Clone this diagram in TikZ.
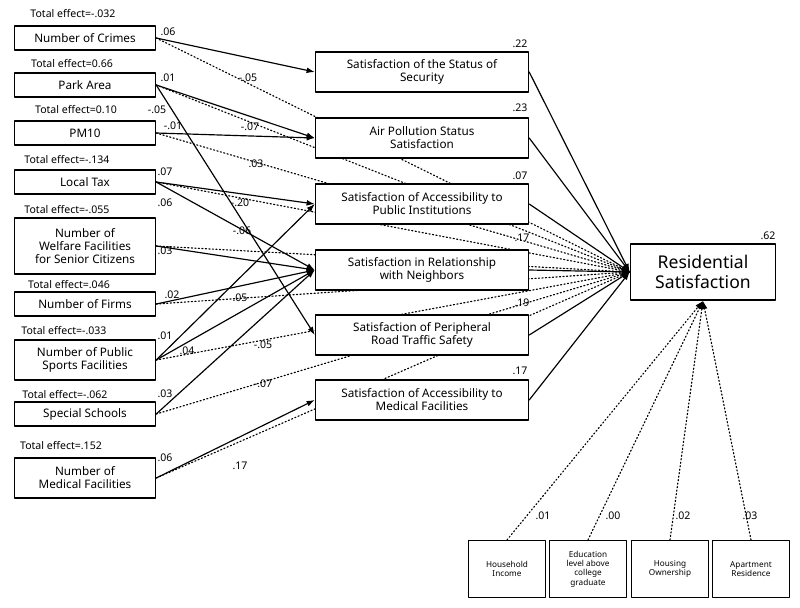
\documentclass[tikz,border=0pt]{standalone}
\usepackage{fontspec}
\setmainfont{Noto Sans}
\usetikzlibrary{arrows.meta}

\begin{document}
\begin{tikzpicture}[line cap=round,line join=round,>={Latex[length=7pt,width=5pt]},x=0.03cm,y=-0.03cm,
	lbox/.style={draw,line width=1.2pt,minimum width=4.23cm,minimum height=0.72cm,align=center,font=\fontsize{10}{11}\selectfont\bfseries,inner sep=1pt,fill=white},
	mbox/.style={draw,line width=1.2pt,minimum width=6.39cm,minimum height=1.2cm,align=center,font=\fontsize{10}{11}\selectfont\bfseries,inner sep=1pt,fill=white},
	cbox/.style={draw,line width=1pt,minimum width=2.3cm,minimum height=1.71cm,align=center,font=\fontsize{7}{8}\selectfont,inner sep=1pt,fill=white},
	coef/.style={font=\fontsize{9}{10}\selectfont\bfseries,inner sep=0pt},
	path/.style={line width=1pt,->},
	ind/.style={line width=1pt,dotted}]
		\useasboundingbox (0,0) rectangle (800,608);
		% exogenous variables
		\node[lbox] (crime) at (85,38) {Number of Crimes};
		\node[lbox] (park) at (85,85) {Park Area};
		\node[lbox] (pm) at (85,133) {PM10};
		\node[lbox] (tax) at (85,182) {Local Tax};
		\node[lbox,minimum height=1.68cm] (welf) at (85,246) {Number of\\Welfare Facilities\\for Senior Citizens};
		\node[lbox] (firm) at (85,304) {Number of Firms};
		\node[lbox,minimum height=1.2cm] (sport) at (85,360) {Number of Public\\Sports Facilities};
		\node[lbox] (school) at (85,414) {Special Schools};
		\node[lbox,minimum height=1.2cm] (med) at (85,478) {Number of\\Medical Facilities};
		% residential satisfaction
		\node[draw,line width=1.4pt,minimum width=4.35cm,minimum height=1.68cm,align=center,font=\fontsize{15}{17}\selectfont\bfseries] (res) at (703,272) {Residential\\Satisfaction};
		% indirect paths
		\foreach \s in {crime,park,pm,tax,welf,firm,sport,school,med}
			\draw[ind] (\s.east) -- (res.west);
		% mediators
		\node[mbox] (secu) at (422,72) {Satisfaction of the Status of\\Security};
		\node[mbox] (air) at (422,138) {Air Pollution Status\\Satisfaction};
		\node[mbox] (pub) at (422,204) {Satisfaction of Accessibility to\\Public Institutions};
		\node[mbox] (neig) at (422,270) {Satisfaction in Relationship\\with Neighbors};
		\node[mbox] (road) at (422,335) {Satisfaction of Peripheral\\Road Traffic Safety};
		\node[mbox] (mfac) at (422,400) {Satisfaction of Accessibility to\\Medical Facilities};
		% direct paths
		\draw[path] (crime.east) -- (secu.west);
		\draw[path] (park.east) -- (air.west);
		\draw[path] (park.east) -- (road.west);
		\draw[path] (pm.east) -- (air.west);
		\draw[path] (tax.east) -- (pub.west);
		\draw[path] (tax.east) -- (neig.west);
		\draw[path] (welf.east) -- (neig.west);
		\draw[path] (firm.east) -- (neig.west);
		\draw[path] (sport.east) -- (pub.west);
		\draw[path] (sport.east) -- (neig.west);
		\draw[path] (school.east) -- (neig.west);
		\draw[path] (med.east) -- (mfac.west);
		\foreach \m in {secu,air,pub,neig,road,mfac}
			\draw[path] (\m.east) -- (res.west);
		% controls
		\node[cbox] (inc) at (507,569) {Household\\Income};
		\node[cbox] (edu) at (588,569) {Education\\level above\\college\\graduate};
		\node[cbox] (hous) at (670,569) {Housing\\Ownership};
		\node[cbox] (apt) at (751,569) {Apartment\\Residence};
		\foreach \c in {inc,edu,hous,apt}
			\draw[ind,->] (\c.north) -- (res.south);
		% total effects
		\begin{scope}[coef]
			\node at (73,14) {Total effect=-.032};
			\node at (72,64) {Total effect=0.66};
			\node at (76,110) {Total effect=0.10};
			\node at (67,160) {Total effect=-.134};
			\node at (67,210) {Total effect=-.055};
			\node at (69,285) {Total effect=.046};
			\node at (64,331) {Total effect=-.033};
			\node at (65,395) {Total effect=-.062};
			\node at (61,446) {Total effect=.152};
		% path coefficients
			\node at (168,32) {.06};
			\node at (248,78) {-.05};
			\node at (168,78) {.01};
			\node at (157,110) {-.05};
			\node at (173,126) {-.01};
			\node at (250,127) {-.07};
			\node at (256,164) {.03};
			\node at (165,172) {.07};
			\node at (165,203) {.06};
			\node at (240,203) {-.20};
			\node at (242,231) {-.06};
			\node at (165,251) {.03};
			\node at (172,295) {.02};
			\node at (240,298) {.05};
			\node at (165,336) {.01};
			\node at (187,351) {.04};
			\node at (263,345) {-.05};
			\node at (165,394) {.03};
			\node at (263,384) {-.07};
			\node at (165,458) {.06};
			\node at (240,466) {.17};
			\node at (520,44) {.22};
			\node at (520,108) {.23};
			\node at (520,176) {.07};
			\node at (522,238) {.17};
			\node at (522,303) {.19};
			\node at (520,371) {.17};
			\node at (768,236) {.62};
			\node at (543,516) {.01};
			\node at (613,516) {.00};
			\node at (683,516) {.02};
			\node at (750,516) {.03};
		\end{scope}
	\end{tikzpicture}
\end{document}
